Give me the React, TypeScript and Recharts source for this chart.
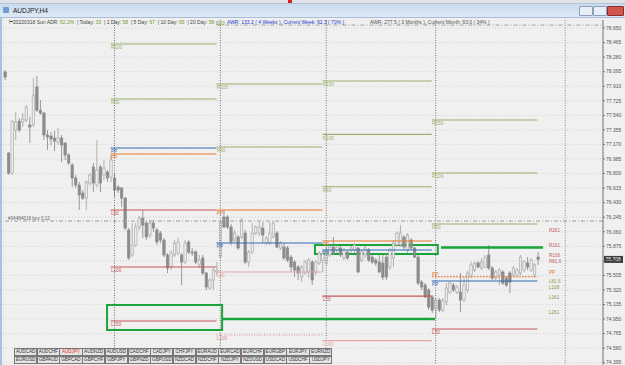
import { ComposedChart, Bar, XAxis, YAxis, CartesianGrid, ReferenceLine, ReferenceArea } from "recharts"

// H4 candles, [open, high, low, close], one array per week
const week1Candles = [
    [78.091, 78.116, 77.989, 78.027], [77.061, 77.073, 76.781, 76.806], [76.806, 77.48, 76.781, 77.467],
    [77.353, 77.582, 77.226, 77.455], [77.467, 77.506, 77.328, 77.353], [77.455, 77.569, 77.391, 77.493],
    [77.48, 77.671, 77.455, 77.646], [77.417, 77.518, 77.188, 77.391], [77.417, 78.014, 77.391, 77.798],
    [77.9, 78.04, 77.582, 77.607], [77.607, 77.735, 77.544, 77.569], [77.569, 77.582, 77.226, 77.29],
    [77.29, 77.353, 77.099, 77.264], [77.277, 77.328, 77.162, 77.239], [77.251, 77.34, 77.086, 77.213],
    [77.2, 77.379, 77.162, 77.251], [77.251, 77.29, 76.946, 77.162], [77.188, 77.2, 76.972, 77.035],
    [77.035, 77.061, 76.908, 76.934], [76.908, 76.934, 76.628, 76.743], [76.743, 76.781, 76.616, 76.654],
    [76.654, 76.692, 76.336, 76.527], [76.552, 76.59, 76.463, 76.488], [76.488, 76.717, 76.336, 76.692],
    [76.679, 76.806, 76.641, 76.781], [76.883, 76.934, 76.565, 76.679], [76.654, 77.226, 76.628, 76.845],
    [76.883, 76.908, 76.565, 76.679], [76.781, 76.972, 76.717, 76.87], [76.819, 76.845, 76.692, 76.743],
    [76.756, 77.035, 76.692, 76.972],
]
const week2Candles = [
    [76.743, 76.806, 76.501, 76.59], [76.628, 76.654, 76.552, 76.59], [76.616, 76.628, 76.374, 76.488],
    [76.488, 76.501, 76.082, 76.107], [76.082, 76.107, 75.7, 75.726], [75.764, 76.171, 75.738, 75.891],
    [75.891, 76.171, 75.865, 76.12], [76.12, 76.26, 76.082, 76.234], [76.234, 76.336, 75.98, 76.145],
    [76.171, 76.196, 75.954, 75.993], [76.018, 76.209, 75.98, 76.171], [76.171, 76.209, 76.056, 76.107],
    [76.082, 76.107, 75.891, 75.929], [76.043, 76.069, 75.916, 75.954], [75.954, 75.98, 75.738, 75.764],
    [75.764, 75.789, 75.535, 75.598], [75.611, 75.827, 75.573, 75.789], [75.764, 75.954, 75.738, 75.916],
    [75.789, 75.98, 75.764, 75.929], [75.764, 75.789, 75.382, 75.675], [75.675, 75.954, 75.649, 75.916],
    [75.929, 75.954, 75.776, 75.802], [75.802, 75.853, 75.751, 75.789], [75.802, 75.827, 75.649, 75.675],
    [75.637, 75.764, 75.598, 75.7], [75.726, 75.764, 75.509, 75.535], [75.535, 75.548, 75.319, 75.357],
    [75.344, 75.471, 75.319, 75.446], [75.446, 75.598, 75.319, 75.573], [75.548, 75.675, 75.509, 75.573],
]
const week3Candles = [
    [75.738, 76.209, 75.726, 76.183], [76.247, 76.336, 76.107, 76.12], [76.247, 76.272, 76.094, 76.12],
    [76.12, 76.158, 75.891, 75.929], [75.954, 76.082, 75.929, 76.043], [75.993, 76.018, 75.827, 75.853],
    [75.993, 76.234, 75.967, 76.209], [76.043, 76.082, 75.649, 75.675], [75.675, 75.827, 75.611, 75.802],
    [75.802, 76.171, 75.776, 76.043], [76.043, 76.145, 76.018, 76.12], [76.043, 76.183, 76.005, 76.12],
    [76.107, 76.183, 75.916, 76.018], [75.916, 76.005, 75.891, 75.98], [75.929, 76.183, 75.891, 76.043],
    [75.993, 76.196, 75.98, 76.171], [76.043, 76.069, 75.853, 75.865], [75.853, 75.942, 75.827, 75.916],
    [75.865, 75.916, 75.7, 75.726], [75.853, 75.878, 75.675, 75.7], [75.738, 75.764, 75.548, 75.611],
    [75.675, 75.7, 75.484, 75.573], [75.611, 75.637, 75.446, 75.535], [75.484, 75.637, 75.42, 75.611],
    [75.535, 75.7, 75.509, 75.675], [75.548, 75.726, 75.471, 75.7], [75.675, 75.7, 75.382, 75.446],
    [75.548, 75.7, 75.509, 75.675], [75.662, 75.815, 75.637, 75.789], [75.7, 75.827, 75.548, 75.789],
]
const week4Candles = [
    [75.662, 75.916, 75.637, 75.827], [75.764, 75.891, 75.738, 75.865], [75.865, 75.993, 75.764, 75.789],
    [75.827, 75.891, 75.789, 75.865], [75.853, 75.878, 75.738, 75.764], [75.726, 75.853, 75.7, 75.827],
    [75.802, 75.827, 75.7, 75.726], [75.827, 75.878, 75.789, 75.853], [75.827, 75.916, 75.789, 75.891],
    [75.853, 75.865, 75.535, 75.548], [75.7, 75.827, 75.675, 75.802], [75.764, 75.878, 75.726, 75.853],
    [75.827, 75.853, 75.675, 75.7], [75.738, 75.764, 75.649, 75.675], [75.7, 75.726, 75.624, 75.662],
    [75.675, 75.764, 75.535, 75.548], [75.662, 75.764, 75.446, 75.484], [75.738, 75.789, 75.446, 75.484],
    [75.611, 75.853, 75.573, 75.827], [75.726, 75.954, 75.611, 75.916], [75.891, 76.069, 75.865, 76.043],
    [75.891, 76.145, 75.865, 76.043], [75.993, 76.018, 75.827, 75.865], [75.827, 76.043, 75.789, 76.018],
    [75.954, 75.98, 75.827, 75.853], [75.853, 75.865, 75.726, 75.738], [75.738, 75.764, 75.382, 75.408],
    [75.42, 75.446, 75.319, 75.357], [75.382, 75.408, 75.217, 75.23], [75.319, 75.344, 75.064, 75.103],
    [75.23, 75.255, 75.026, 75.064],
]
const week5Candles = [
    [75.09, 75.217, 74.95, 75.191], [75.191, 75.217, 75.039, 75.064], [75.064, 75.217, 75.039, 75.191],
    [75.166, 75.408, 75.128, 75.344], [75.293, 75.433, 75.268, 75.408], [75.382, 75.408, 75.293, 75.319],
    [75.293, 75.382, 75.268, 75.357], [75.293, 75.535, 75.039, 75.191], [75.191, 75.484, 75.166, 75.382],
    [75.319, 75.56, 75.281, 75.535], [75.509, 75.675, 75.471, 75.637], [75.573, 75.675, 75.548, 75.662],
    [75.662, 75.687, 75.598, 75.611], [75.598, 75.726, 75.573, 75.675], [75.611, 75.764, 75.598, 75.738],
    [75.764, 75.891, 75.573, 75.598], [75.598, 75.624, 75.446, 75.471], [75.471, 75.573, 75.446, 75.548],
    [75.509, 75.598, 75.382, 75.573], [75.548, 75.573, 75.382, 75.408], [75.471, 75.497, 75.357, 75.382],
    [75.535, 75.56, 75.281, 75.42], [75.509, 75.624, 75.484, 75.598], [75.509, 75.598, 75.484, 75.573],
    [75.535, 75.764, 75.509, 75.738], [75.573, 75.7, 75.548, 75.675], [75.662, 75.738, 75.573, 75.611],
    [75.573, 75.726, 75.548, 75.7], [75.509, 75.662, 75.484, 75.637], [75.738, 75.802, 75.637, 75.708],
]

// first bar index of each week
const weekStarts = [31, 61, 91, 122, 152]

type Level = { label: string; value: number; kind: string }

const week2Levels: Level[] = [
    { label: "R100", value: 78.446, kind: "res" },
    { label: "R50", value: 77.747, kind: "res" },
    { label: "PP", value: 77.124, kind: "pp" },
    { label: "PP", value: 77.048, kind: "pp2" },
    { label: "L50", value: 76.336, kind: "sup" },
    { label: "L100", value: 75.611, kind: "sup" },
    { label: "L150", value: 74.925, kind: "sup" },
]
const week3Levels: Level[] = [
    { label: "R100", value: 77.938, kind: "res" },
    { label: "R50", value: 77.137, kind: "res" },
    { label: "PP", value: 76.336, kind: "pp2" },
    { label: "PP", value: 75.917, kind: "pp" },
    { label: "L50", value: 75.548, kind: "sup2" },
    { label: "L100", value: 74.747, kind: "sup3" },
]
const week4Levels: Level[] = [
    { label: "R150", value: 77.976, kind: "res" },
    { label: "R100", value: 77.298, kind: "res" },
    { label: "R50", value: 76.632, kind: "res" },
    { label: "PP", value: 75.942, kind: "pp2" },
    { label: "PP", value: 75.827, kind: "pp" },
    { label: "L50", value: 75.242, kind: "sup" },
    { label: "L100", value: 74.676, kind: "sup2" },
]
const week5Levels: Level[] = [
    { label: "R150", value: 77.48, kind: "res" },
    { label: "R100", value: 76.806, kind: "res" },
    { label: "R50", value: 76.158, kind: "res" },
    { label: "PP", value: 75.488, kind: "pp3" },
    { label: "PP", value: 75.433, kind: "pp" },
    { label: "L50", value: 74.823, kind: "sup" },
]

// daily levels printed at the right of the last bar
const dailyLabels = ["R261", "R161", "R108", "R81.6", "PP", "L81.6", "L108", "L161", "L261"]
const dailyValues = [76.082, 75.891, 75.764, 75.687, 75.548, 75.433, 75.357, 75.23, 75.039]

// hand drawn markup (green)
const boxes = [
    { x1: 29.0, x2: 61.6, y1: 74.81, y2: 75.128 },
    { x1: 87.9, x2: 122.7, y1: 75.777, y2: 75.891 },
]
const markLines = [
    { x1: 61.6, x2: 121.9, value: 74.95 },
    { x1: 123.6, x2: 152.5, value: 75.859 },
]

const orderPrice = 76.196
const orderText = "#34484018 buy 0.12"
const monthLine = 78.688

const yTicks = [
    78.65, 78.465, 78.28, 78.095, 77.91, 77.725, 77.54, 77.355, 77.17, 76.985, 76.8, 76.615,
    76.43, 76.245, 76.06, 75.875, 75.69, 75.505, 75.32, 75.135, 74.95, 74.765, 74.58, 74.395,
]

const symbolsRow1 = ["AUDCAD", "AUDCHF", "AUDJPY", "AUDNZD", "AUDUSD", "CADCHF", "CADJPY", "CHFJPY", "EURAUD", "EURCAD", "EURCHF", "EURGBP", "EURJPY", "EURNZD"]
const symbolsRow2 = ["EURUSD", "GBPAUD", "GBPCAD", "GBPCHF", "GBPJPY", "GBPNZD", "GBPUSD", "NZDCAD", "NZDCHF", "NZDJPY", "NZDUSD", "USDCAD", "USDCHF", "USDJPY"]

const FONT = "'Liberation Sans', Arial, sans-serif"
const GREEN = "#1aa53c"

const KIND_STYLE: Record<string, { color: string; dash?: string }> = {
    res: { color: "#9db06c" },
    pp: { color: "#2f6db3" },
    pp2: { color: "#e5792d" },
    pp3: { color: "#e5792d", dash: "2 1" },
    sup: { color: "#c65656" },
    sup2: { color: "#e4a4a4" },
    sup3: { color: "#d98a8a", dash: "1 1.5" },
}

const allWeeks = [week1Candles, week2Candles, week3Candles, week4Candles, week5Candles]
const candles = allWeeks.flat().map(([o, h, l, c], i) => ({ i, o, h, l, c, range: [l, h] }))
const lastClose = candles[candles.length - 1].c

const weekLevels = [week2Levels, week3Levels, week4Levels, week5Levels]
const gridTicks = Array.from({ length: 29 }, (_, k) => 1 + k * 6)

function Candle(props: any) {
    const { x, y, width, height, payload } = props
    if (!payload) return null
    const { o, h, l, c } = payload
    const top = Math.min(y, y + height)
    const hh = Math.abs(height)
    const span = h - l || 1
    const toY = (v: number) => top + ((h - v) / span) * hh
    const bTop = toY(Math.max(o, c))
    const bBot = toY(Math.min(o, c))
    const bull = c >= o
    const cx = x + width / 2
    return (
        <g>
            <line x1={cx} x2={cx} y1={top} y2={top + hh} stroke={bull ? "#a8a8a8" : "#8e8e8e"} strokeWidth={0.9} />
            <rect
                x={x}
                y={bTop}
                width={width}
                height={Math.max(bBot - bTop, 0.8)}
                fill={bull ? "#ececec" : "#8c8c8c"}
                stroke={bull ? "#a2a2a2" : "#868686"}
                strokeWidth={0.6}
            />
        </g>
    )
}

const textLabel = (text: string, color: string, dy = 5.4, dx = 0.3, size = 4.7) => ({
    content: (p: any) => {
        const vb = p.viewBox || {}
        return (
            <text x={(vb.x ?? 0) + dx} y={(vb.y ?? 0) + dy} fontSize={size} fill={color} fontFamily={FONT}>
                {text}
            </text>
        )
    },
})

function dailyColor(label: string) {
    if (label === "PP") return "#e5792d"
    return label.startsWith("R") ? "#c86060" : "#7f9d44"
}

function Header() {
    const s = { position: "absolute" as const, top: 19, fontSize: 5, fontFamily: FONT, whiteSpace: "nowrap" as const, lineHeight: "6px" }
    const g = { color: "#6f9a2a" }
    return (
        <>
            <div style={{ ...s, left: 9, color: "#444" }}>
                ⊢20220318 Sun ADR: <span style={g}>62.2%</span> &nbsp;| Today: <span style={g}>33</span> &nbsp;| 1 Day: <span style={g}>58</span>{" "}
                &nbsp;| 5 Day: <span style={g}>67</span> &nbsp;| 10 Day: <span style={g}>69</span> &nbsp;| 20 Day: <span style={g}>58</span>
            </div>
            <div style={{ ...s, left: 216, top: 21, color: "#6f9a2a", fontSize: 4.5 }}>6|10</div>
            <div style={{ ...s, left: 227, color: "#2438c8" }}>AWR: 133.2 ( 4 Weeks ), Current Week: 92.3 ( 70% )</div>
            <div style={{ ...s, left: 370, color: "#555" }}>AWR: 277.5 ( 3 Months ), Current Month: 93.0 ( 34% )</div>
        </>
    )
}

function SymbolButtons() {
    const rows = [symbolsRow1, symbolsRow2]
    return (
        <div style={{ position: "absolute", left: 14, top: 348, width: 320, height: 15 }}>
            {rows.map((row, r) =>
                row.map((s, k) => (
                    <div
                        key={s}
                        style={{
                            position: "absolute",
                            left: k * 22.7,
                            top: r * 7.5,
                            width: 21.2,
                            height: 6,
                            boxSizing: "content-box",
                            border: "0.6px solid #777",
                            background: "#e4e4e4",
                            color: s === "AUDJPY" ? "#e03030" : "#333",
                            fontSize: 4.6,
                            lineHeight: "6px",
                            textAlign: "center",
                            fontFamily: FONT,
                            overflow: "hidden",
                            whiteSpace: "nowrap",
                        }}
                    >
                        {s}
                    </div>
                ))
            )}
        </div>
    )
}

export default function App() {
    return (
        <div style={{ position: "fixed", left: 0, top: 0, width: 625, height: 365, overflow: "hidden", background: "#f0f0f0", fontFamily: FONT }}>
            {/* strip of the window behind */}
            <div style={{ position: "absolute", left: 0, top: 0, width: 625, height: 3, background: "#dfe3e8", borderBottom: "1px solid #b8c4d2" }} />
            <div style={{ position: "absolute", left: 288, top: 0, width: 4, height: 3, background: "#d02020" }} />
            {/* title bar */}
            <div
                style={{
                    position: "absolute",
                    left: 0,
                    top: 4,
                    width: 625,
                    height: 13,
                    background: "linear-gradient(#c9dbef, #dfe9f5)",
                    borderBottom: "1px solid #a9bdd6",
                }}
            >
                <div style={{ position: "absolute", left: 3, top: 3, width: 6, height: 6, background: "#6f9fd0", borderRadius: 1 }} />
                <div style={{ position: "absolute", left: 13, top: 3, fontSize: 6.5, color: "#1a1a1a", lineHeight: "7px" }}>AUDJPY,H4</div>
                <div style={{ position: "absolute", left: 579, top: 2, width: 12, height: 8, background: "#e8eff8", border: "0.5px solid #8aa0bc", borderRadius: 1 }} />
                <div style={{ position: "absolute", left: 593, top: 2, width: 12, height: 8, background: "#e8eff8", border: "0.5px solid #8aa0bc", borderRadius: 1 }} />
                <div style={{ position: "absolute", left: 607, top: 2, width: 15, height: 8, background: "#d0564c", border: "0.5px solid #8a2d28", borderRadius: 1 }} />
            </div>
            {/* left window frame */}
            <div style={{ position: "absolute", left: 0, top: 18, width: 2, height: 347, background: "#a8c2e0" }} />

            <div style={{ position: "absolute", left: 3, top: 20 }}>
                <ComposedChart width={622} height={346} data={candles} margin={{ top: 0, right: 0, bottom: 0, left: 0 }}>
                    <CartesianGrid stroke="#d2d2d2" strokeDasharray="1 2" vertical horizontal />
                    <XAxis
                        dataKey="i"
                        type="number"
                        domain={[-0.48, 169.5]}
                        allowDataOverflow
                        ticks={gridTicks}
                        height={0}
                        tick={false}
                        axisLine={false}
                        tickLine={false}
                    />
                    <YAxis
                        orientation="right"
                        width={22}
                        type="number"
                        domain={[74.353, 78.752]}
                        allowDataOverflow
                        ticks={yTicks}
                        interval={0}
                        tickFormatter={(v: number) => v.toFixed(3)}
                        tick={{ fontSize: 5, fill: "#555", fontFamily: FONT }}
                        tickSize={2}
                        tickMargin={1}
                        axisLine={{ stroke: "#777" }}
                        tickLine={{ stroke: "#777" }}
                    />

                    {/* week separators */}
                    {weekStarts.slice(0, 4).map((w) => (
                        <ReferenceLine key={`sep-${w}`} x={w + 0.1} stroke="#707070" strokeDasharray="1 1.5" />
                    ))}
                    <ReferenceLine x={158.8} stroke="#8a8a8a" strokeDasharray="1 1.5" />

                    {/* month line at the top */}
                    <ReferenceLine
                        segment={[{ x: 60, y: monthLine }, { x: 169.5, y: monthLine }]}
                        stroke="#a0a0a0"
                        strokeDasharray="4 2 1 2"
                    />

                    {/* open order */}
                    <ReferenceLine
                        y={orderPrice}
                        stroke="#9c9c9c"
                        strokeDasharray="4 2 1 2"
                        label={textLabel(orderText, "#666", -1.4, 5, 4.6)}
                    />

                    {/* weekly levels */}
                    {weekLevels.map((levels, w) => {
                        const from = weekStarts[w] - 1
                        const to = w === 3 ? 150.9 : weekStarts[w + 1] - 1
                        return levels.map((lv, k) => {
                            const st = KIND_STYLE[lv.kind]
                            return (
                                <ReferenceLine
                                    key={`lv-${w}-${k}`}
                                    segment={[{ x: from, y: lv.value }, { x: to, y: lv.value }]}
                                    stroke={st.color}
                                    strokeWidth={1.1}
                                    strokeDasharray={st.dash}
                                    label={textLabel(lv.label, st.color, lv.kind === "pp3" ? -0.8 : 5.4)}
                                />
                            )
                        })
                    })}

                    {/* daily level texts */}
                    {dailyLabels.map((lab, k) => (
                        <ReferenceLine
                            key={`d-${lab}`}
                            segment={[{ x: 154.2, y: dailyValues[k] }, { x: 157, y: dailyValues[k] }]}
                            stroke="none"
                            label={textLabel(lab, dailyColor(lab), 1.8, 0, 4.6)}
                        />
                    ))}

                    <Bar dataKey="range" barSize={2.4} shape={<Candle />} isAnimationActive={false} />

                    {/* green markup */}
                    {boxes.map((b, k) => (
                        <ReferenceArea key={`box-${k}`} x1={b.x1} x2={b.x2} y1={b.y1} y2={b.y2} fill="none" fillOpacity={0} stroke={GREEN} strokeWidth={2} />
                    ))}
                    {markLines.map((m, k) => (
                        <ReferenceLine
                            key={`ml-${k}`}
                            segment={[{ x: m.x1, y: m.value }, { x: m.x2, y: m.value }]}
                            stroke={GREEN}
                            strokeWidth={2.4}
                        />
                    ))}

                    {/* last price on the axis */}
                    <ReferenceLine
                        y={lastClose}
                        stroke="none"
                        label={{
                            content: (p: any) => {
                                const vb = p.viewBox || {}
                                const x = (vb.x ?? 0) + (vb.width ?? 0) + 1
                                const y = vb.y ?? 0
                                return (
                                    <g>
                                        <rect x={x} y={y - 3.5} width={19} height={7} fill="#3a3a3a" />
                                        <text x={x + 1.5} y={y + 2} fontSize={5} fill="#fff" fontFamily={FONT}>
                                            {lastClose.toFixed(3)}
                                        </text>
                                    </g>
                                )
                            },
                        }}
                    />
                </ComposedChart>
            </div>

            <Header />
            <SymbolButtons />
        </div>
    )
}
